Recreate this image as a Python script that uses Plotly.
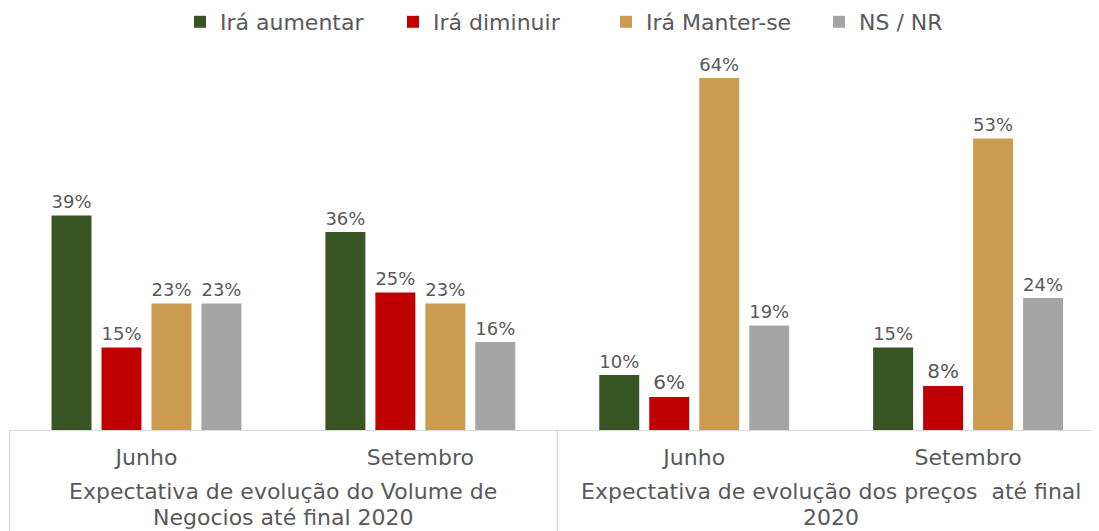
import plotly.graph_objects as go

# data
periods = ["Junho", "Setembro", "Junho", "Setembro"]
group_line1 = ["Expectativa de evolução do Volume de",
               "Expectativa de evolução dos preços  até final"]
group_line2 = ["Negocios até final 2020", "2020"]
series_names = ["Irá aumentar", "Irá diminuir", "Irá Manter-se", "NS / NR"]
colors = ["#375623", "#C00000", "#CC9B52", "#A5A5A5"]
aumentar = [39, 36, 10, 15]
diminuir = [15, 25, 6, 8]
manter = [23, 23, 64, 53]
nsnr = [23, 16, 19, 24]
values = [aumentar, diminuir, manter, nsnr]

pos = list(range(len(periods)))
font_family = "DejaVu Sans, Verdana, sans-serif"
W, H = 1091, 523
T, B, L = 42, 101, 1
plot_h = H - T - B
grey_text = "#595959"
line_col = "#D9D9D9"

fig = go.Figure()
for name, col, vals in zip(series_names, colors, values):
    fig.add_trace(go.Bar(
        x=pos, y=vals, name=name, marker_color=col,
        marker_line_width=0,
        text=[f"{v}%" for v in vals], textposition="outside",
        textfont=dict(size=20, color=grey_text, family=font_family),
        cliponaxis=False,
    ))

# group labels (two lines each) centered under each pair of periods
n_per_group = len(periods) // len(group_line1)
for g, (l1, l2) in enumerate(zip(group_line1, group_line2)):
    xc = g * n_per_group + (n_per_group - 1) / 2
    for txt, ypix in ((l1, 491 - 8), (l2, 517 - 8)):
        fig.add_annotation(x=xc, xref="x", y=-(ypix - T - plot_h) / plot_h, yref="paper",
                           text=txt, showarrow=False, xanchor="center", yanchor="middle",
                           borderpad=0,
                           font=dict(size=22, color=grey_text, family=font_family))

# dividers between groups
for g in range(len(group_line1) + 1):
    xd = g * n_per_group - 0.5
    fig.add_shape(type="line", xref="x", yref="paper", x0=xd, x1=xd,
                  y0=0, y1=-B / plot_h, line=dict(color=line_col, width=1.3))

fig.update_layout(
    width=W, height=H,
    margin=dict(l=L, r=0, t=T, b=B, autoexpand=False),
    barmode="group", bargap=0.27, bargroupgap=0.2,
    plot_bgcolor="white", paper_bgcolor="white",
    font=dict(family=font_family, color=grey_text, size=20),
    legend=dict(orientation="h", x=(172 - L) / (W - L), xanchor="left",
                y=1 + (T - 14) / plot_h, yanchor="middle",
                font=dict(size=22, color=grey_text, family=font_family),
                itemwidth=30, entrywidth=168, entrywidthmode="pixels",
                traceorder="normal"),
)
fig.update_xaxes(range=[-0.502, 3.478], showline=True, tickmode="array",
                 tickvals=pos, ticktext=periods, showgrid=False, zeroline=False,
                 linecolor=line_col, linewidth=1, automargin=False,
                 ticklabelstandoff=8,
                 tickfont=dict(size=22, color=grey_text, family=font_family), ticks="")
fig.update_yaxes(range=[0, 69.1], visible=False, showgrid=False, automargin=False)

fig.write_html("out.html")
